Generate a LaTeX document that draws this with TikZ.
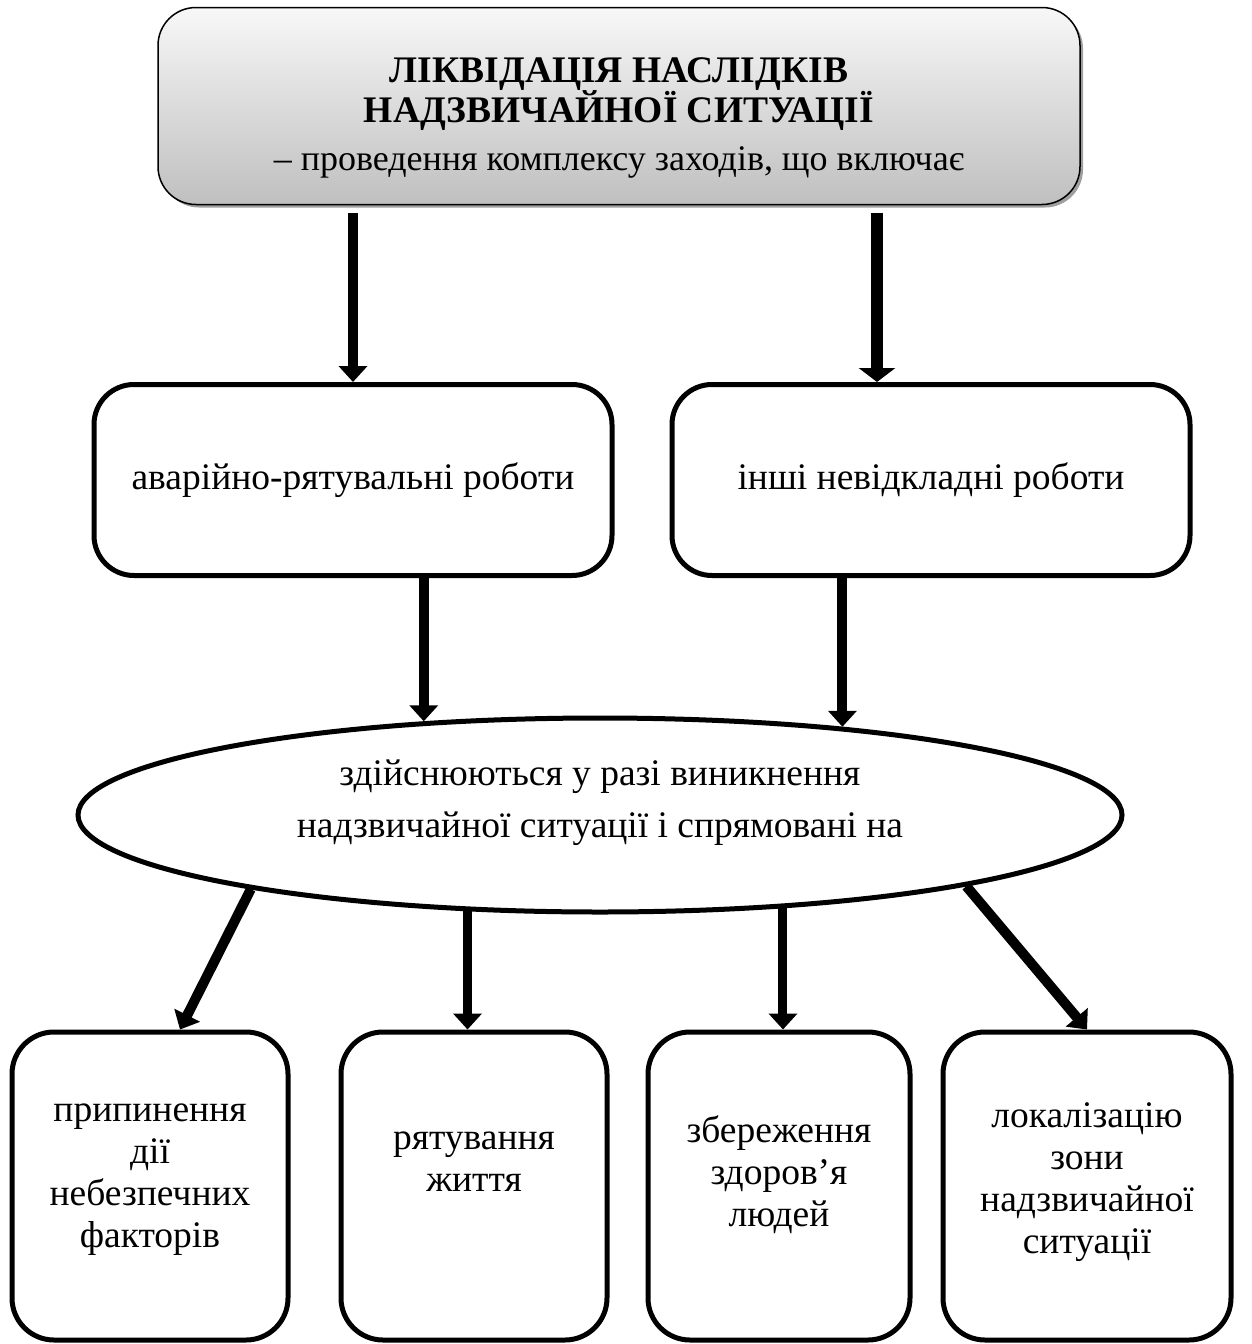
\documentclass[tikz,border=0pt]{standalone}
\usepackage{fontspec}
\setmainfont{Liberation Serif}
\usepackage{tikz}
\usetikzlibrary{arrows.meta,positioning,shapes.geometric,shadows}
\tikzset{
  headbox/.style={draw=black, line width=1.5pt, rounded corners=38pt, top color=gray!6, bottom color=gray!50, drop shadow={shadow xshift=3pt, shadow yshift=-3pt, fill=gray!75, opacity=1}, align=center, minimum width=922pt, minimum height=197pt, inner sep=0pt, font=\fontsize{37.5}{40}\selectfont},
  workbox/.style={draw=black, line width=5pt, rounded corners=40pt, fill=white, align=center, minimum width=518pt, minimum height=191pt, inner sep=0pt, font=\fontsize{37.5}{42}\selectfont},
  goalbox/.style={draw=black, line width=5pt, rounded corners=42pt, align=center, minimum height=308pt, inner sep=0pt, font=\fontsize{37.5}{42}\selectfont},
  ellnode/.style={draw=black, line width=5pt, ellipse, minimum width=1044pt, minimum height=194pt, inner sep=0pt, align=center, font=\fontsize{37.5}{52}\selectfont},
  flow/.style={line width=10pt, -{Triangle[length=16pt, width=28pt]}}
}

\begin{document}
\begin{tikzpicture}[x=1pt, y=-1pt]
  \useasboundingbox (0,0) rectangle (1251,1344);
  \node[headbox] (head) at (619,106) {\mbox{}\\[9pt]\textbf{ЛІКВІДАЦІЯ НАСЛІДКІВ}\\\textbf{НАДЗВИЧАЙНОЇ СИТУАЦІЇ}\\[8pt]{\fontsize{36}{40}\selectfont – проведення комплексу заходів, що включає}};
  \node[workbox] (rescue) at (353,480) {аварійно-рятувальні роботи};
  \node[workbox] (urgent) at (931,480) {інші невідкладні роботи};
  \node[ellnode] (aim) at (600,815) {здійснюються у разі виникнення\\надзвичайної ситуації і спрямовані на\\[-20pt]\mbox{}};
  \node[goalbox, minimum width=276pt] (stop) at (150,1186) {припинення\\дії\\небезпечних\\факторів\\[-22pt]\mbox{}};
  \node[goalbox, minimum width=266pt] (life) at (474,1186) {рятування\\життя\\[6pt]\mbox{}};
  \node[goalbox, minimum width=262pt] (health) at (779,1186) {збереження\\здоров’я\\людей\\[-12pt]\mbox{}};
  \node[goalbox, minimum width=288pt] (zone) at (1087,1186) {локалізацію\\зони\\надзвичайної\\ситуації\\[-26pt]\mbox{}};
  \draw[flow, shorten <=8pt] (rescue.north |- head.south) -- (rescue.north);
  \draw[flow, line width=12pt, -{Triangle[length=14pt, width=36pt]}, shorten <=8pt] ([xshift=-54pt]urgent.north |- head.south) -- ([xshift=-54pt]urgent.north);
  \draw[flow] (aim.152 |- rescue.south) -- (aim.152);
  \draw[flow] (aim.20.5 |- urgent.south) -- (aim.20.5);
  \draw[flow] (aim.192.5) -- ([xshift=30pt]stop.north);
  \draw[flow, line width=9pt] (aim.216) -- (aim.216 |- life.north);
  \draw[flow, line width=9pt] (aim.333) -- (aim.333 |- health.north);
  \draw[flow] (aim.349.5) -- (zone.north);
\end{tikzpicture}
\end{document}
